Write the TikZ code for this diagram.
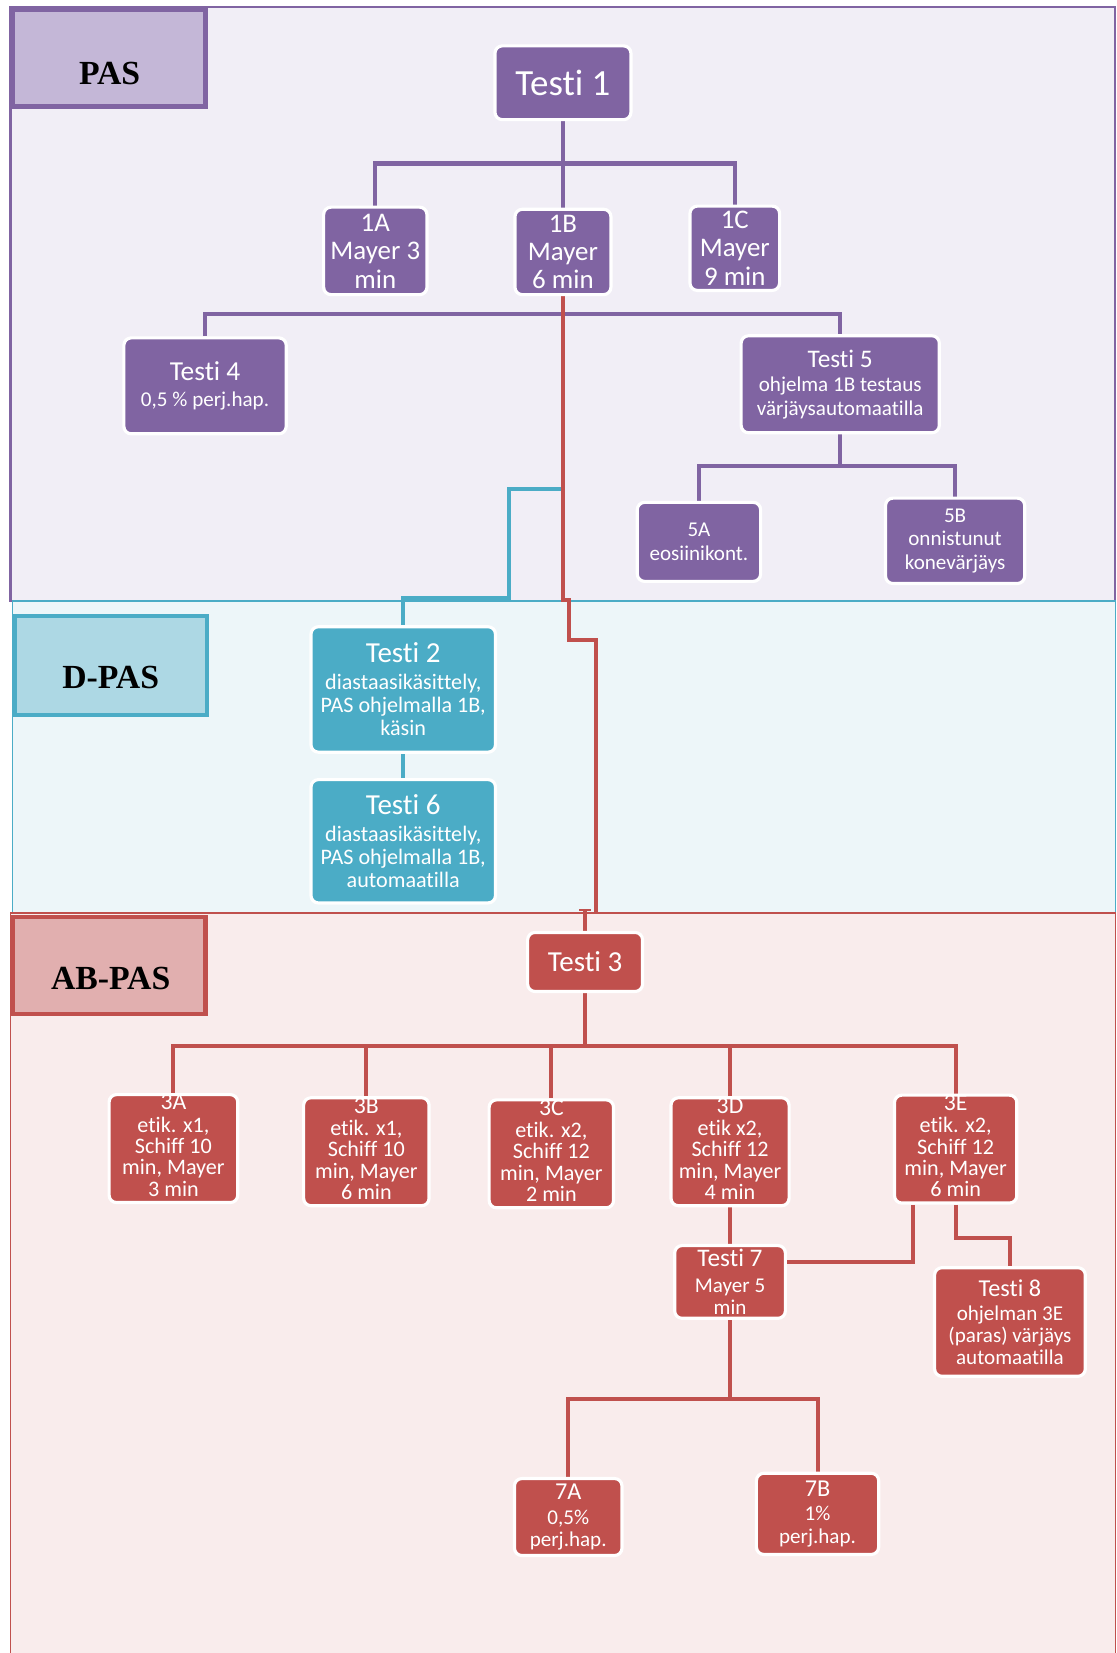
\documentclass[tikz,border=0pt]{standalone}
\usepackage{fontspec}
\newfontfamily\carl[Ligatures=NoCommon]{Carlito}
\newfontfamily\tnr{Liberation Serif}
\usetikzlibrary{arrows.meta}
\newcommand{\lowpad}{\rule[-6pt]{0pt}{6pt}}
\definecolor{cpur}{HTML}{8064A2}
\definecolor{cteal}{HTML}{4BACC6}
\definecolor{cred}{HTML}{C0504D}
\definecolor{pasbg}{HTML}{F1EEF6}
\definecolor{dbg}{HTML}{EDF6F9}
\definecolor{abbg}{HTML}{F9ECEC}
\definecolor{paslab}{HTML}{C4B7D7}
\definecolor{dlab}{HTML}{ADD8E4}
\definecolor{ablab}{HTML}{E1AFAF}
\pgfdeclarelayer{bg}
\pgfdeclarelayer{mid}
\pgfsetlayers{bg,mid,main}
\tikzset{
  box/.style={rounded corners=7pt, draw=white, line width=3pt, text=white, align=center, inner sep=0pt, font=\carl\fontsize{20}{22}\selectfont},
  pbox/.style={box, fill=cpur},
  tbox/.style={box, fill=cteal},
  rbox/.style={box, fill=cred},
  link/.style={line width=4pt, line join=miter},
  plink/.style={link, draw=cpur},
  tlink/.style={link, draw=cteal},
  rlink/.style={link, draw=cred, line width=3.8pt},
  labbox/.style={line width=4pt, inner sep=0pt},
  labtext/.style={font=\tnr\bfseries\fontsize{32}{34}\selectfont, text=black, inner sep=0pt},
  threebox/.style={rbox, font=\carl\fontsize{21}{20.2}\selectfont},
}
\begin{document}
\begin{tikzpicture}[x=1pt, y=-1pt]
\useasboundingbox (0,0) rectangle (1059,1568);
% panels
\begin{pgfonlayer}{bg}
\fill[pasbg] (10,7) rectangle (1058,570);
\draw[cpur, line width=2pt] (10,7) rectangle (1058,570);
\fill[dbg] (12,570) rectangle (1058,866);
\draw[cteal, line width=1.5pt] (12,570) rectangle (1058,866);
\fill[abbg] (10,866) rectangle (1058,1580);
\draw[cred, line width=1.5pt] (10,866) rectangle (1058,1580);
\end{pgfonlayer}
% labels
\node[labbox, draw=cpur, fill=paslab, minimum width=183, minimum height=92] (lp) at (103.5,55) {};
\node[labtext] (lpt) at (104,70) {PAS};
\node[labbox, draw=cteal, fill=dlab, minimum width=182, minimum height=94] (ld) at (105,631) {};
\node[labtext] (ldt) at (105,643) {D-PAS};
\node[labbox, draw=cred, fill=ablab, minimum width=183, minimum height=92] (lab) at (103.5,916) {};
\node[labtext] (labt) at (105,928) {AB-PAS};
% PAS nodes
\node[pbox, minimum width=129, minimum height=70, font=\carl\fontsize{35}{36}\selectfont] (t1) at (534,78.5) {Testi 1};
\node[pbox, minimum width=98, minimum height=83, font=\carl\fontsize{25.5}{27}\selectfont] (a1) at (356,238) {1A\\Mayer 3\\min};
\node[pbox, minimum width=91, minimum height=81, font=\carl\fontsize{25.5}{27}\selectfont] (b1) at (534,239) {1B\\Mayer\\6 min};
\node[pbox, minimum width=85, minimum height=80, font=\carl\fontsize{25.5}{27}\selectfont] (c1) at (697,235.5) {1C\\Mayer\\9 min};
\node[pbox, minimum width=154, minimum height=91, font=\carl\fontsize{20}{25}\selectfont] (t4) at (194.5,366) {{\fontsize{26}{28}\selectfont Testi 4}\\0,5 \% perj.hap.};
\node[pbox, minimum width=188, minimum height=92, font=\carl\fontsize{20}{22.8}\selectfont] (t5) at (797,364.5) {{\fontsize{24}{26}\selectfont Testi 5}\\ohjelma 1B testaus\\värjäysautomaatilla};
\node[pbox, minimum width=117, minimum height=75, font=\carl\fontsize{20}{22.5}\selectfont] (a5) at (663,514) {5A\\eosiinikont.};
\node[pbox, minimum width=132, minimum height=81, font=\carl\fontsize{20}{22.5}\selectfont] (b5) at (906,513) {5B\\onnistunut\\konevärjäys};
% D-PAS nodes
\node[tbox, minimum width=175, minimum height=119, font=\carl\fontsize{21}{21.8}\selectfont] (t2) at (382.5,654) {{\fontsize{27.5}{30}\selectfont Testi 2}\\[4pt]diastaasikäsittely,\\PAS ohjelmalla 1B,\\käsin};
\node[tbox, minimum width=175, minimum height=117, font=\carl\fontsize{21}{21.8}\selectfont] (t6) at (382.5,798) {{\fontsize{27.5}{30}\selectfont Testi 6}\\[4pt]diastaasikäsittely,\\PAS ohjelmalla 1B,\\automaatilla};
% AB-PAS nodes
\node[rbox, minimum width=109, minimum height=56, font=\carl\fontsize{27.5}{30}\selectfont] (t3) at (555,912.5) {Testi 3};
\node[threebox, minimum width=122, minimum height=98] (a3) at (164.5,1089.5) {{\fontsize{22.5}{22}\selectfont 3A}\\[1pt]etik. x1,\\Schiff 10\\min, Mayer\\3 min\lowpad};
\node[threebox, minimum width=119, minimum height=100] (b3) at (347.5,1092.5) {{\fontsize{22.5}{22}\selectfont 3B}\\[1pt]etik. x1,\\Schiff 10\\min, Mayer\\6 min\lowpad};
\node[threebox, minimum width=118, minimum height=100] (c3) at (523,1094.5) {{\fontsize{22.5}{22}\selectfont 3C}\\[1pt]etik. x2,\\Schiff 12\\min, Mayer\\2 min\lowpad};
\node[threebox, minimum width=112, minimum height=100] (d3) at (692.5,1092.5) {{\fontsize{22.5}{22}\selectfont 3D}\\[1pt]etik x2,\\Schiff 12\\min, Mayer\\4 min\lowpad};
\node[threebox, minimum width=116, minimum height=101] (e3) at (906.5,1090) {{\fontsize{22.5}{22}\selectfont 3E}\\[1pt]etik. x2,\\Schiff 12\\min, Mayer\\6 min\lowpad};
\node[rbox, minimum width=105, minimum height=69, font=\carl\fontsize{20}{21.2}\selectfont] (t7) at (692.5,1216) {{\fontsize{24}{26}\selectfont Testi 7}\\[3pt]Mayer 5\\min};
\node[rbox, minimum width=143, minimum height=103, font=\carl\fontsize{20}{20.8}\selectfont] (t8) at (958,1254) {{\fontsize{23}{25}\selectfont Testi 8}\\[2pt]ohjelman 3E\\(paras) värjäys\\automaatilla};
\node[rbox, minimum width=102, minimum height=73, font=\carl\fontsize{20}{21}\selectfont] (a7) at (539,1439) {{\fontsize{23}{25}\selectfont 7A}\\[2pt]0,5\%\\perj.hap.};
\node[rbox, minimum width=116, minimum height=77, font=\carl\fontsize{20}{21}\selectfont] (b7) at (775.5,1436) {{\fontsize{23}{25}\selectfont 7B}\\[2pt]1\%\\perj.hap.};
% connectors
\begin{pgfonlayer}{mid}
\draw[plink] (t1.south) -- (b1.north);
\draw[plink] (a1.north) -- (a1.north |- 0,155) -- (c1.north |- 0,155) -- (c1.north);
\draw[plink] (b1.south) -- (b1.south |- 0,298);
\draw[plink] (t4.north) -- (t4.north |- 0,298) -- (t5.north |- 0,298) -- (t5.north);
\draw[plink] (t5.south) -- (t5.south |- 0,442);
\draw[plink] (a5.north) -- (a5.north |- 0,442) -- (b5.north |- 0,442) -- (b5.north);
\draw[tlink] (b1.south) -- (b1.south |- 0,464) -- (483,464) -- (483,567) -- (t2.north |- 0,567) -- (t2.north);
\draw[tlink] (t2.south) -- (t6.north);
\coordinate (rend) at (565,865);
\draw[rlink] (b1.south) -- (b1.south |- 0,569) -- (539.5,569) -- (539.5,607) -- (565,607) -- (rend);
\coordinate (rtop) at (555,862);
\draw[rlink, {Bar[width=11pt,line width=2pt]}-] (rtop) -- (t3.north);
\draw[rlink] (t3.south) -- (t3.south |- 0,992);
\draw[rlink] (a3.north) -- (a3.north |- 0,992) -- (e3.north |- 0,992) -- (e3.north);
\draw[rlink] (b3.north) -- (b3.north |- 0,992);
\draw[rlink] (c3.north) -- (c3.north |- 0,992);
\draw[rlink] (d3.north) -- (d3.north |- 0,992);
\draw[rlink] (d3.south) -- (t7.north);
\draw[rlink] ([xshift=-40.5pt]e3.south) |- ([yshift=19pt]t7.east);
\draw[rlink] (e3.south) -- (e3.south |- 0,1174) -- (t8.north |- 0,1174) -- (t8.north);
\draw[rlink] (t7.south) -- (t7.south |- 0,1327);
\draw[rlink] (a7.north) -- (a7.north |- 0,1327) -- (b7.north |- 0,1327) -- (b7.north);
\end{pgfonlayer}
\end{tikzpicture}
\end{document}
